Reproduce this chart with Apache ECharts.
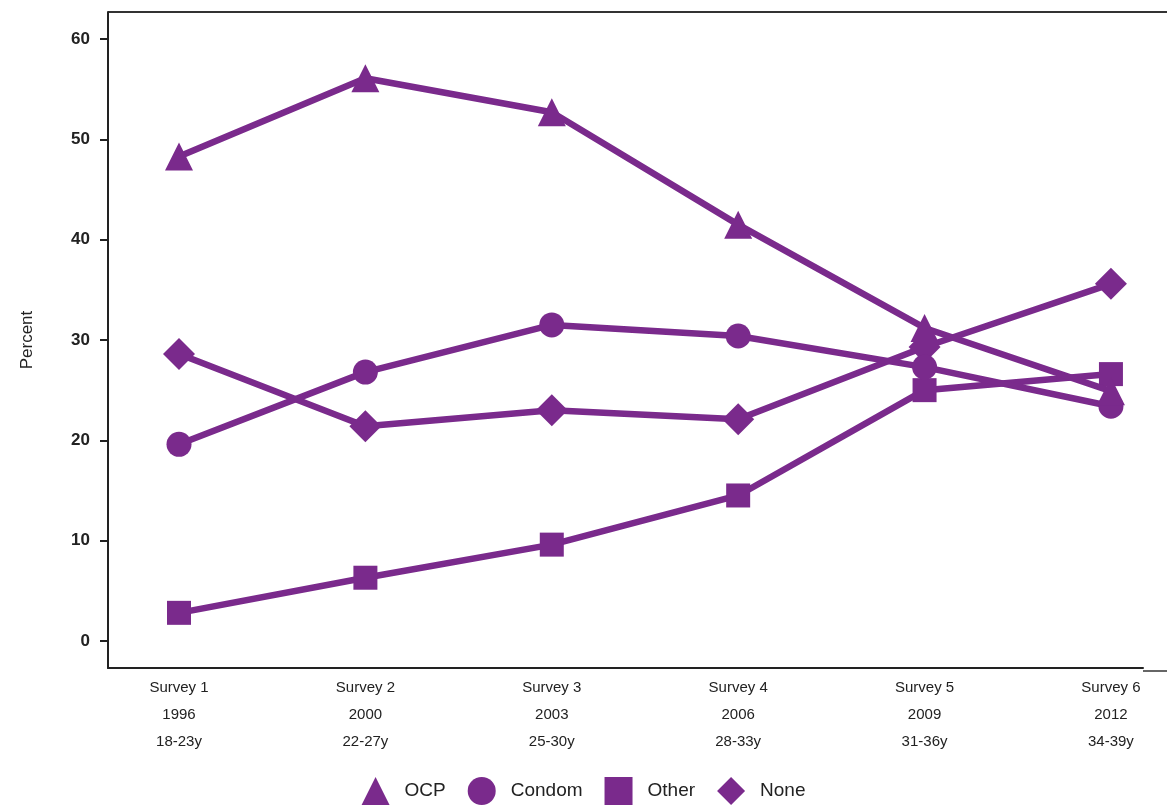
<!DOCTYPE html>
<html>
<head>
<meta charset="utf-8">
<script src="https://cdn.jsdelivr.net/npm/echarts@6/dist/echarts.min.js"></script>
<style>
html,body{margin:0;padding:0;background:#fff;}
#main{width:1167px;height:807px;}
</style>
</head>
<body>
<div id="main"></div>
<script>
const categories = ['Survey 1\n1996\n18-23y','Survey 2\n2000\n22-27y','Survey 3\n2003\n25-30y','Survey 4\n2006\n28-33y','Survey 5\n2009\n31-36y','Survey 6\n2012\n34-39y'];
const ocp    = [48.3, 56.1, 52.7, 41.5, 31.2, 24.9];
const condom = [19.6, 26.8, 31.5, 30.4, 27.3, 23.4];
const other  = [2.8, 6.3, 9.6, 14.5, 25.0, 26.6];
const none   = [28.6, 21.4, 23.0, 22.1, 29.3, 35.6];
const yTicks = [0, 10, 20, 30, 40, 50, 60];
const seriesNames = ['OCP', 'Condom', 'Other', 'None'];

const purple = '#7A2A8C';
const chart = echarts.init(document.getElementById('main'));
const toPts = arr => arr.map((v, i) => [i, v]);
const mk = (name, data, symbol, size, z) => ({
  name, type: 'line', data: toPts(data), symbol, symbolSize: size, z,
  lineStyle: { color: purple, width: 6.5 },
  itemStyle: { color: purple },
  emphasis: { disabled: true }
});

chart.setOption({
  animation: false,
  grid: { left: 108, right: 24, top: 12, bottom: 139, containLabel: false },
  xAxis: {
    type: 'value', min: -0.381, max: 5.172,
    axisLine: { show: true, onZero: false, lineStyle: { color: '#222', width: 2 } },
    axisTick: { show: false },
    splitLine: { show: false },
    axisLabel: {
      customValues: [0, 1, 2, 3, 4, 5],
      formatter: v => categories[Math.round(v)],
      color: '#222', fontSize: 15, lineHeight: 27,
      fontFamily: 'Liberation Sans Narrow, Liberation Sans, sans-serif',
      margin: 6, verticalAlign: 'top'
    }
  },
  yAxis: {
    type: 'value', min: -2.7, max: 62.7,
    name: 'Percent', nameLocation: 'middle', nameGap: 72, nameRotate: 90,
    nameTextStyle: { color: '#222', fontSize: 17, fontFamily: 'Liberation Sans, sans-serif' },
    axisLine: { show: true, onZero: false, lineStyle: { color: '#222', width: 2 } },
    axisTick: { show: true, customValues: yTicks, length: 8, lineStyle: { color: '#222', width: 2 } },
    splitLine: { show: false },
    axisLabel: {
      customValues: yTicks, color: '#222', fontSize: 17, fontWeight: 'bold',
      fontFamily: 'Liberation Sans, sans-serif', margin: 18
    }
  },
  legend: {
    bottom: -3, left: 'center', itemWidth: 28, itemHeight: 28, itemGap: 22,
    textStyle: { color: '#222', fontSize: 19, fontFamily: 'Liberation Sans, sans-serif', padding: [0, 0, 0, 10] },
    data: [
      { name: seriesNames[0], icon: 'triangle' },
      { name: seriesNames[1], icon: 'circle' },
      { name: seriesNames[2], icon: 'rect' },
      { name: seriesNames[3], icon: 'diamond' }
    ]
  },
  graphic: [
    { type: 'line', shape: { x1: 108, y1: 12, x2: 1167, y2: 12 }, style: { stroke: '#333', lineWidth: 2 } },
    { type: 'line', shape: { x1: 1143, y1: 671, x2: 1167, y2: 671 }, style: { stroke: '#333', lineWidth: 1.5 } }
  ],
  series: [
    mk(seriesNames[3], none, 'diamond', 32, 2),
    mk(seriesNames[2], other, 'rect', 24, 3),
    mk(seriesNames[1], condom, 'circle', 25, 4),
    mk(seriesNames[0], ocp, 'triangle', 28, 5)
  ]
});
</script>
</body>
</html>
